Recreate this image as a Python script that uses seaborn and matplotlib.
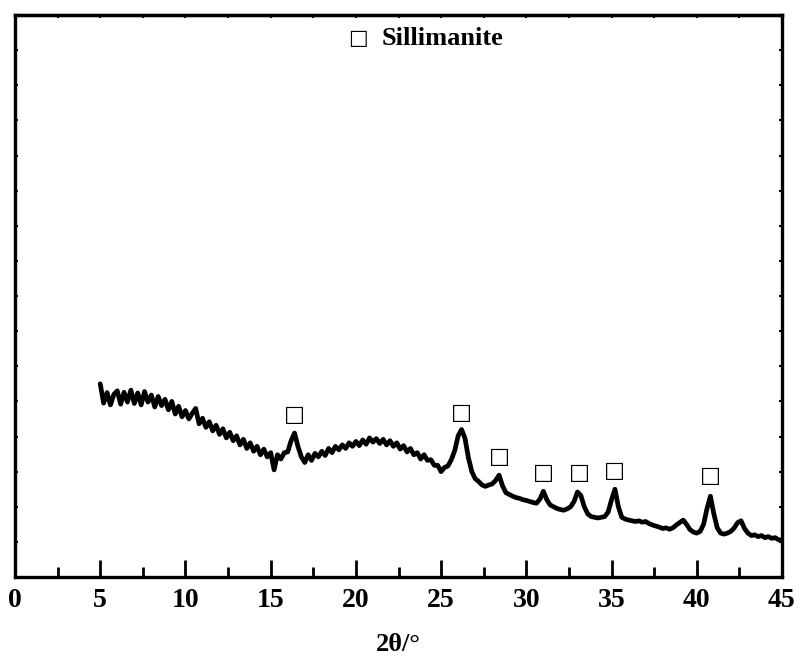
import numpy as np
import pandas as pd
import matplotlib
matplotlib.use("Agg")
import matplotlib.pyplot as plt
import seaborn as sns

# ---- data ----
two_theta_start = 5.0
two_theta_end = 45.0
intensity = [
    550, 495, 525, 490, 520, 530, 492, 526, 498, 532,
    494, 524, 490, 528, 498, 518, 484, 514, 488, 506,
    476, 500, 464, 486, 456, 474,
    450, 466, 480, 436, 452, 426, 442, 416, 432, 406,
    422, 396, 412, 388, 402, 376, 392, 366, 382, 358,
    372, 348, 364, 342, 354, 305, 348, 336, 354, 356,
    388, 410, 372, 342, 326, 348, 332, 352, 342, 358,
    346, 366, 354, 372, 362, 376, 366, 382, 372, 386,
    374, 390, 378, 396, 384, 394, 380, 392, 376, 388,
    372, 382, 364, 374, 356, 366, 348, 354, 336, 348,
    332, 334, 318, 318, 300, 312, 316, 334, 360, 402,
    420, 395, 340, 300, 280, 272, 262, 258, 262, 265,
    275, 290, 260, 240, 235, 230, 226, 224, 220, 218,
    215, 212, 210, 222, 244, 220, 205, 200, 195, 192,
    190, 194, 200, 215, 242, 232, 200, 180, 172, 170,
    168, 170, 172, 185, 220, 250, 200, 170, 165, 162,
    160, 158, 160, 156, 158, 152, 148, 145, 142, 138,
    140, 136, 140, 148, 155, 162, 150, 135, 128, 125,
    130, 150, 195, 230, 180, 140, 125, 122, 125, 130,
    140, 155, 160, 138, 125, 118, 120, 115, 118, 112,
    115, 110, 112, 106, 105,
]
peak_pos = [16.4, 26.2, 28.4, 31.0, 33.1, 35.2, 40.8]
peak_label_y = [461, 467, 342, 296, 296, 302, 288]
marker_char = "\u25a1"
legend_text = "Sillimanite"
x_label = "2\u03b8/\u00b0"
x_ticks = [0, 5, 10, 15, 20, 25, 30, 35, 40, 45]

two_theta = np.linspace(two_theta_start, two_theta_end, len(intensity))
df = pd.DataFrame({"two_theta": two_theta, "intensity": intensity})

sns.set_theme(style="ticks")
plt.rcParams["font.family"] = ["Liberation Serif", "DejaVu Serif", "DejaVu Sans"]
plt.rcParams["font.weight"] = "bold"
plt.rcParams["text.color"] = "black"
plt.rcParams["axes.labelcolor"] = "black"
plt.rcParams["xtick.color"] = "black"
plt.rcParams["ytick.color"] = "black"

fig = plt.figure(figsize=(8.0, 6.61), dpi=100)
ax = fig.add_axes([15 / 800, 1 - 577 / 661, (782 - 15) / 800, (577 - 15) / 661])

sns.lineplot(data=df, x="two_theta", y="intensity", ax=ax, color="black",
             linewidth=3.4, estimator=None, sort=False)

ax.set_xlim(0, 45)
ax.set_ylim(0, 1600)

for sp in ax.spines.values():
    sp.set_linewidth(2.4)
    sp.set_color("black")
    sp.set_visible(True)

ax.set_xticks(x_ticks)
ax.set_xticklabels([str(t) for t in x_ticks], fontsize=20, fontweight="bold",
                   color="black")
ax.set_xticks(np.arange(2.5, 45, 5), minor=True)
ax.tick_params(axis="x", which="major", direction="in", length=12, width=2,
               top=False, pad=8, colors="black")
ax.tick_params(axis="x", which="minor", direction="in", length=7, width=2, top=False)
ax.set_yticks(np.arange(0, 1601, 100))
ax.tick_params(axis="y", which="major", direction="in", length=2, width=1.5,
               left=True, right=True, labelleft=False)
ax.set_ylabel("")
ax.set_xlabel(x_label, fontsize=19, fontweight="bold", labelpad=14, color="black")

sec = ax.secondary_xaxis("top")
sec.set_xticks(np.arange(0, 45.1, 2.5))
sec.tick_params(direction="in", length=2, width=1.5, labeltop=False)
sec.spines["top"].set_linewidth(2.4)

for xp, yp in zip(peak_pos, peak_label_y):
    ax.text(xp, yp, marker_char, ha="center", va="center", fontsize=16,
            family=["DejaVu Sans"], fontweight="normal", color="black")

ax.text(20.1, 1534, marker_char, ha="center", va="center", fontsize=15,
        family=["DejaVu Sans"], fontweight="normal", color="black")
ax.text(21.5, 1534, legend_text, ha="left", va="center", fontsize=19,
        fontweight="bold", color="black")

fig.savefig("out.png", dpi=100)
